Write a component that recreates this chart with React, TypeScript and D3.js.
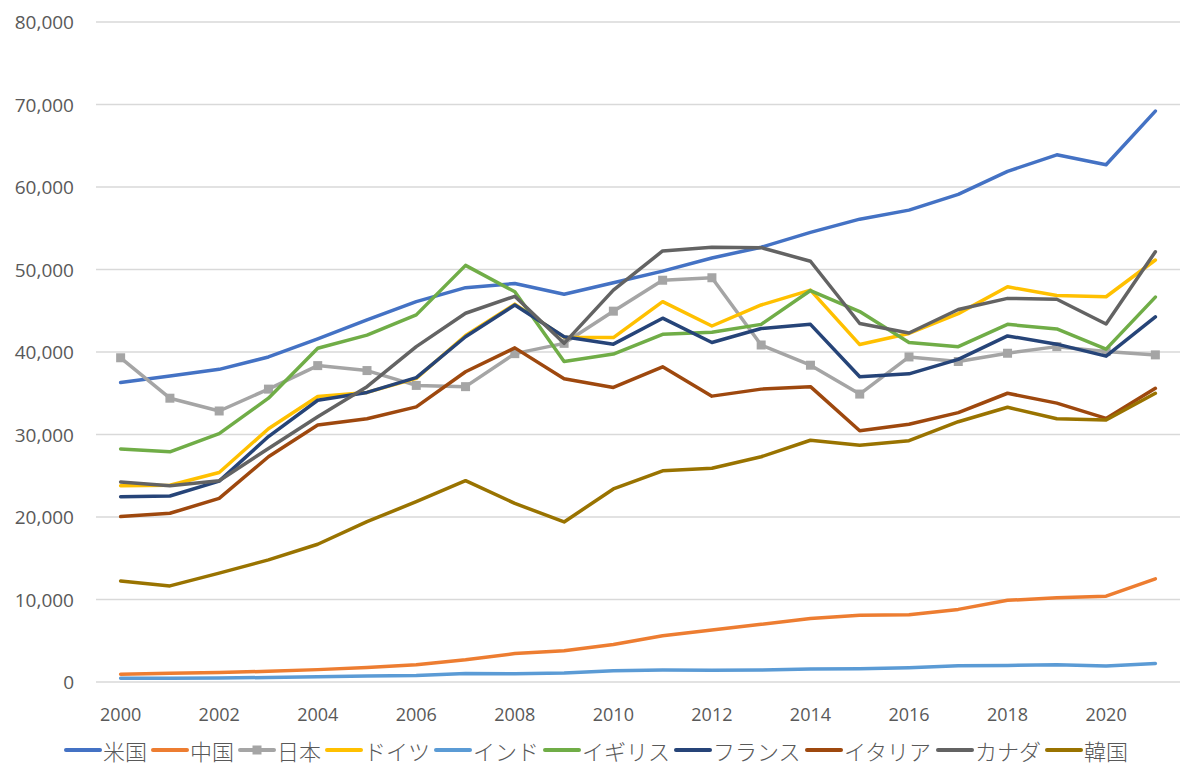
import React from "react";
import * as d3 from "d3";

const years = d3.range(2000, 2022);
const yTicks = [0, 10000, 20000, 30000, 40000, 50000, 60000, 70000, 80000];
const xLabelYears = [2000, 2002, 2004, 2006, 2008, 2010, 2012, 2014, 2016, 2018, 2020];

const usa = [36300, 37100, 37900, 39400, 41600, 43900, 46100, 47800, 48300, 47000, 48400, 49800, 51400, 52700, 54500, 56100, 57200, 59100, 61900, 63900, 62700, 69200];
const china = [950, 1050, 1150, 1300, 1500, 1750, 2100, 2700, 3450, 3800, 4550, 5600, 6300, 7000, 7700, 8100, 8150, 8800, 9900, 10200, 10400, 12500];
const japan = [39300, 34400, 32850, 35500, 38350, 37750, 35950, 35800, 39800, 41050, 44950, 48700, 49000, 40850, 38400, 34900, 39400, 38850, 39850, 40650, 40050, 39650];
const germany = [23800, 23850, 25400, 30700, 34600, 35100, 36800, 42000, 45800, 41800, 41750, 46100, 43150, 45700, 47500, 40900, 42250, 44650, 47900, 46850, 46700, 51150];
const india = [450, 460, 480, 550, 630, 720, 800, 1020, 1000, 1100, 1360, 1450, 1430, 1450, 1570, 1600, 1730, 1980, 2000, 2100, 1930, 2250];
const uk = [28250, 27900, 30100, 34400, 40450, 42050, 44500, 50500, 47300, 38850, 39750, 42150, 42400, 43350, 47450, 44900, 41150, 40650, 43350, 42800, 40350, 46650];
const france = [22450, 22550, 24350, 29750, 34150, 35100, 36900, 41850, 45700, 41850, 40950, 44100, 41150, 42850, 43350, 37000, 37350, 39100, 41950, 40950, 39500, 44250];
const italy = [20050, 20450, 22250, 27300, 31150, 31900, 33350, 37600, 40500, 36750, 35700, 38200, 34650, 35500, 35800, 30450, 31250, 32650, 35000, 33800, 31950, 35600];
const canada = [24250, 23800, 24400, 28300, 32150, 35800, 40650, 44700, 46750, 41050, 47500, 52250, 52700, 52650, 51000, 43450, 42300, 45150, 46500, 46400, 43400, 52150];
const korea = [12250, 11650, 13200, 14800, 16700, 19450, 21850, 24400, 21650, 19400, 23400, 25600, 25900, 27300, 29300, 28700, 29250, 31550, 33300, 31900, 31750, 35000];

const seriesNames = ["米国", "中国", "日本", "ドイツ", "インド", "イギリス", "フランス", "イタリア", "カナダ", "韓国"];
const seriesValues = [usa, china, japan, germany, india, uk, france, italy, canada, korea];
const seriesColors = ["#4472C4", "#ED7D31", "#A5A5A5", "#FFC000", "#5B9BD5", "#70AD47", "#264478", "#9E480E", "#636363", "#997300"];
const markerSeries = "日本";

const W = 1200;
const H = 783;
const plotLeft = 96;
const plotRight = 1180;
const plotTop = 22;
const plotBottom = 682;
const labelColor = "#595959";
const gridColor = "#D9D9D9";
const numFont = "'Open Sans', 'Noto Sans', sans-serif";
const jpFont = "'Noto Sans CJK JP', sans-serif";

export default function App() {
  const x = d3.scalePoint<number>().domain(years).range([plotLeft, plotRight]).padding(0.5);
  const y = d3.scaleLinear().domain([0, 80000]).range([plotBottom, plotTop]);
  const line = d3
    .line<number>()
    .x((_, i) => x(years[i]) as number)
    .y((v) => y(v));
  const fmt = d3.format(",");

  // legend layout
  const legendFont = 22;
  const sampleLen = 34;
  const legendY = 750;
  let cursor = 66;
  const legendItems = seriesNames.map((name, i) => {
    const start = cursor;
    const textW = name.length * legendFont;
    cursor += sampleLen + 3 + textW + 6;
    return { name, color: seriesColors[i], start };
  });

  return (
    <svg
      width={W}
      height={H}
      style={{ position: "absolute", left: 0, top: 0, background: "#fff" }}
    >
      <rect x={0} y={0} width={W} height={H} fill="#fff" />
      {yTicks.map((t) => (
        <g key={t}>
          <line
            x1={plotLeft}
            x2={plotRight}
            y1={y(t)}
            y2={y(t)}
            stroke={gridColor}
            strokeWidth={1.3}
          />
          <text
            x={74}
            y={y(t)}
            textAnchor="end"
            dominantBaseline="central"
            fontFamily={numFont}
            fontSize={19}
            fill={labelColor}
          >
            {fmt(t)}
          </text>
        </g>
      ))}
      {xLabelYears.map((yr) => (
        <text
          key={yr}
          x={x(yr) as number}
          y={714}
          textAnchor="middle"
          dominantBaseline="central"
          fontFamily={numFont}
          fontSize={18}
          fill={labelColor}
        >
          {yr}
        </text>
      ))}
      {seriesValues.map((vals, i) => (
        <g key={seriesNames[i]}>
          <path
            d={line(vals) || ""}
            fill="none"
            stroke={seriesColors[i]}
            strokeWidth={3.5}
            strokeLinejoin="round"
            strokeLinecap="round"
          />
          {seriesNames[i] === markerSeries &&
            vals.map((v, j) => (
              <rect
                key={j}
                x={(x(years[j]) as number) - 4.5}
                y={y(v) - 4.5}
                width={9}
                height={9}
                fill={seriesColors[i]}
              />
            ))}
        </g>
      ))}
      {legendItems.map((it) => (
        <g key={it.name}>
          <line
            x1={it.start}
            x2={it.start + sampleLen}
            y1={legendY}
            y2={legendY}
            stroke={it.color}
            strokeWidth={4}
            strokeLinecap="round"
          />
          {it.name === markerSeries && (
            <rect
              x={it.start + sampleLen / 2 - 4.5}
              y={legendY - 4.5}
              width={9}
              height={9}
              fill={it.color}
            />
          )}
          <text
            x={it.start + sampleLen + 3}
            y={legendY}
            dominantBaseline="central"
            fontFamily={jpFont}
            fontWeight={300}
            fontSize={legendFont}
            fill={labelColor}
          >
            {it.name}
          </text>
        </g>
      ))}
    </svg>
  );
}
